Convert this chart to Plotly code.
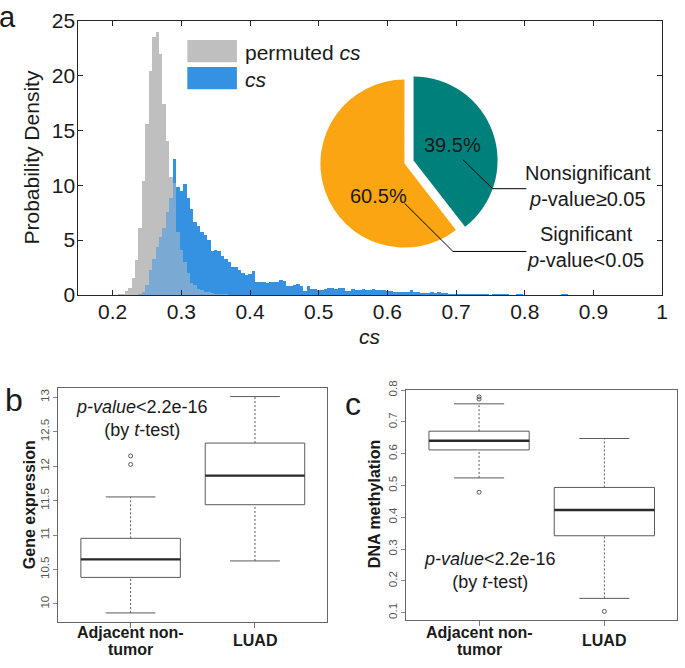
import numpy as np
import plotly.graph_objects as go

# ---------------- data ----------------
BIN_WIDTH = 0.005
perm_start = 0.208          # left edge of first "permuted cs" bin
perm_density = [0.05, 0.15, 0.4, 0.7, 1.6, 3.2, 6.1, 10.4, 15.6, 20.4, 23.5, 24.0,
                22.0, 17.4, 14.1, 10.8, 10.2, 5.8, 4.1, 3.0, 2.0, 1.1, 0.9, 0.55,
                0.45, 0.3, 0.25, 0.2, 0.15, 0.1, 0.05, 0.05]
cs_start = 0.238            # left edge of first "cs" bin
cs_density = [0.1, 0.3, 0.9, 2.3, 3.3, 4.4, 5.3, 6.1, 7.6, 8.9, 12.4, 9.9,
              9.5, 10.1, 8.9, 7.9, 6.7, 6.3, 5.8, 5.5, 5.0, 4.0, 4.1, 4.0,
              3.6, 3.3, 3.0, 2.6, 2.6, 2.3, 2.0, 1.8, 1.9, 2.2, 1.2, 1.2,
              1.2, 1.15, 1.2, 1.2, 1.2, 1.4, 1.3, 0.85, 0.85, 0.9, 1.0, 0.85,
              0.4, 0.85, 0.6, 0.55, 0.5, 0.5, 0.55, 0.65, 0.65, 0.6, 0.7, 0.65,
              0.35, 0.35, 0.55, 0.5, 0.5, 0.55, 0.5, 0.5, 0.55, 0.45, 0.5, 0.5,
              0.4, 0.4, 0.3, 0.3, 0.3, 0.28, 0.28, 0.45, 0.25, 0.25, 0.22, 0.22,
              0.22, 0.28, 0.22, 0.3, 0.18, 0.18, 0.15, 0.12, 0.12, 0.15, 0.15, 0.12,
              0.08, 0.1, 0.05, 0.1, 0.08, 0.05, 0.02, 0.05, 0.1, 0.08, 0.08, 0.05,
              0.0, 0.02, 0.08, 0.05, 0.0, 0.0, 0.0, 0.0, 0.0, 0.0, 0.0, 0.0,
              0.0, 0.0, 0.0, 0.08, 0.05]
x_ticks = [0.2, 0.3, 0.4, 0.5, 0.6, 0.7, 0.8, 0.9, 1.0]
x_ticktext = ["0.2", "0.3", "0.4", "0.5", "0.6", "0.7", "0.8", "0.9", "1"]
y_ticks_a = [0, 5, 10, 15, 20, 25]

pie_labels = ["Nonsignificant", "Significant"]
pie_sub = ["<i>p</i>-value≥0.05", "<i>p</i>-value<0.05"]
pie_values = [39.5, 60.5]

groups = [["Adjacent non-", "tumor"], ["LUAD"]]
group_pos = [1, 2]
expr_q1 = [10.385, 11.44]
expr_median = [10.647, 11.862]
expr_q3 = [10.952, 12.335]
expr_lower = [9.869, 10.624]
expr_upper = [11.553, 13.01]
expr_outliers = [[12.148, 12.025], []]
expr_ticks = [10, 10.5, 11, 11.5, 12, 12.5, 13]

meth_q1 = [0.612, 0.342]
meth_median = [0.641, 0.423]
meth_q3 = [0.671, 0.494]
meth_lower = [0.524, 0.145]
meth_upper = [0.757, 0.648]
meth_outliers = [[0.779, 0.772, 0.479], [0.104]]
meth_ticks = [0.1, 0.2, 0.3, 0.4, 0.5, 0.6, 0.7, 0.8]

# ---------------- helpers ----------------
W, H = 685, 668
def px(x):
    return x / W
def py(y):
    return 1 - y / H

FONT = "Liberation Sans, Arial, sans-serif"
GRAY = "#bfbfbf"
BLUE = "#3591e2"
OVER = "#7aa9d3"
TEAL = "#00807a"
ORANGE = "#fba512"

perm = np.array(perm_density)
cs = np.array(cs_density)
perm_x = perm_start + BIN_WIDTH * (np.arange(len(perm)) + 0.5)
cs_x = cs_start + BIN_WIDTH * (np.arange(len(cs)) + 0.5)
shift = int(round((cs_start - perm_start) / BIN_WIDTH))
n_ov = min(len(perm) - shift, len(cs))
ov = np.minimum(perm[shift:shift + n_ov], cs[:n_ov])
ov_x = cs_x[:n_ov]

fig = go.Figure()
for xs, ys, col in [(perm_x, perm, GRAY), (cs_x, cs, BLUE), (ov_x, ov, OVER)]:
    fig.add_trace(go.Bar(x=xs, y=ys, width=BIN_WIDTH, marker=dict(color=col, line=dict(width=0)),
                         xaxis="x", yaxis="y", showlegend=False, hoverinfo="skip"))

# pie
fig.add_trace(go.Pie(labels=pie_labels, values=pie_values, sort=False, direction="clockwise",
                     rotation=0, pull=[0.115, 0], marker=dict(colors=[TEAL, ORANGE], line=dict(width=0)),
                     textinfo="none", showlegend=False, hoverinfo="skip",
                     domain=dict(x=[px(311), px(505)], y=[py(254), py(60)])))

BOXLINE = "#5a5a5a"
def add_boxes(xa, ya, q1, med, q3, lo, up, outl):
    for i, p in enumerate(group_pos):
        fig.add_trace(go.Box(x=[p], q1=[q1[i]], median=[med[i]], q3=[q3[i]],
                             lowerfence=[q1[i]], upperfence=[q3[i]], width=0.8,
                             whiskerwidth=0, fillcolor="white", boxpoints=False,
                             line=dict(color=BOXLINE, width=1), xaxis=xa, yaxis=ya,
                             showlegend=False, hoverinfo="skip"))
        # whiskers (dashed)
        for a, b in [(q3[i], up[i]), (lo[i], q1[i])]:
            fig.add_trace(go.Scatter(x=[p, p], y=[a, b], mode="lines",
                                     line=dict(color=BOXLINE, width=1, dash="2px,2px"),
                                     xaxis=xa, yaxis=ya, showlegend=False, hoverinfo="skip"))
        # staples
        for v in [up[i], lo[i]]:
            fig.add_trace(go.Scatter(x=[p - 0.2, p + 0.2], y=[v, v], mode="lines",
                                     line=dict(color=BOXLINE, width=1),
                                     xaxis=xa, yaxis=ya, showlegend=False, hoverinfo="skip"))
        # thick median
        fig.add_trace(go.Scatter(x=[p - 0.4, p + 0.4], y=[med[i], med[i]], mode="lines",
                                 line=dict(color="#2a2a2a", width=2.4),
                                 xaxis=xa, yaxis=ya, showlegend=False, hoverinfo="skip"))
        if outl[i]:
            fig.add_trace(go.Scatter(x=[p] * len(outl[i]), y=outl[i], mode="markers",
                                     marker=dict(symbol="circle-open", size=4, color=BOXLINE,
                                                 line=dict(width=1)),
                                     xaxis=xa, yaxis=ya, showlegend=False, hoverinfo="skip"))

add_boxes("x2", "y2", expr_q1, expr_median, expr_q3, expr_lower, expr_upper, expr_outliers)
add_boxes("x3", "y3", meth_q1, meth_median, meth_q3, meth_lower, meth_upper, meth_outliers)

# ---------------- layout ----------------
ax_a = dict(showgrid=False, zeroline=False, showline=True, linecolor="#262626", linewidth=1,
            ticks="inside", ticklen=5, tickcolor="#262626", mirror="ticks",
            tickfont=dict(family=FONT, size=21, color="#1a1a1a"))
ax_box_y = dict(showgrid=False, zeroline=False, showline=True, linecolor="#666666", linewidth=1,
                mirror=True, ticks="outside", ticklen=4, tickcolor="#888888", tickangle=-90,
                tickfont=dict(family=FONT, size=11.5, color="#555555"))
ax_box_x = dict(showgrid=False, zeroline=False, showline=True, linecolor="#666666", linewidth=1,
                mirror=True, ticks="outside", ticklen=5, tickcolor="#777777",
                tickvals=group_pos, showticklabels=False, range=[0.42, 2.58])

fig.update_layout(
    width=W, height=H, autosize=False,
    margin=dict(l=0, r=0, t=0, b=0),
    paper_bgcolor="white", plot_bgcolor="white",
    barmode="overlay", bargap=0,
    font=dict(family=FONT, color="#1a1a1a"),
    xaxis=dict(ax_a, domain=[px(79), px(668)], range=[0.15, 1.0], anchor="y",
               tickvals=x_ticks, ticktext=x_ticktext, ticklabelstandoff=-2),
    yaxis=dict(ax_a, domain=[py(293), py(9)], range=[0, 25], anchor="x",
               tickvals=y_ticks_a, ticklabelstandoff=-2),
    xaxis2=dict(ax_box_x, domain=[px(59), px(330)], anchor="y2"),
    yaxis2=dict(ax_box_y, domain=[py(632), py(389)], range=[9.734, 13.14], anchor="x2",
                tickvals=expr_ticks, ticktext=[f"{v:g}" for v in expr_ticks]),
    xaxis3=dict(ax_box_x, domain=[px(410), px(683)], anchor="y3"),
    yaxis3=dict(ax_box_y, domain=[py(630), py(391)], range=[0.076, 0.802], anchor="x3",
                tickvals=meth_ticks, ticktext=[f"{v:g}" for v in meth_ticks]),
)

ann = []
def A(x, y, text, size, **kw):
    d = dict(x=px(x), y=py(y), xref="paper", yref="paper", text=text, showarrow=False,
             font=dict(family=FONT, size=size, color=kw.pop("color", "#1a1a1a")),
             xanchor=kw.pop("xanchor", "center"), yanchor=kw.pop("yanchor", "middle"))
    d.update(kw)
    ann.append(d)

# panel letters
A(8, 24, "a", 29, yanchor="bottom")
A(14, 402, "b", 32)
A(356, 406, "c", 32)
# panel a titles
A(32, 151, "Probability Density", 21, textangle=-90)
A(373, 336, "<i>cs</i>", 21)
# legend
A(245, 42, "permuted <i>cs</i>", 21, xanchor="left")
A(245, 70, "<i>cs</i>", 21, xanchor="left")
# pie texts
A(457, 138, f"{pie_values[0]:.1f}%", 20)
A(382, 191, f"{pie_values[1]:.1f}%", 20)
A(593, 180, f"{pie_labels[0]}<br>{pie_sub[0]}", 20)
A(591, 243, f"{pie_labels[1]}<br>{pie_sub[1]}", 20)
# panel b/c
A(30, 510, "<b>Gene expression</b>", 16, textangle=-90)
A(378, 510, "<b>DNA methylation</b>", 16, textangle=-90)
for xa in ["x2", "x3"]:
    for p, lines in zip(group_pos, groups):
        ys = [643, 660] if len(lines) == 2 else [651]
        for yy, t in zip(ys, lines):
            ann.append(dict(x=p, y=py(yy), xref=xa, yref="paper", text=f"<b>{t}</b>",
                            showarrow=False, yanchor="middle", xanchor="center",
                            font=dict(family=FONT, size=16, color="#1a1a1a")))
A(143, 421, "<i>p-value</i><2.2e-16<br>(by <i>t</i>-test)", 18)
A(494, 578, "<i>p-value</i><2.2e-16<br>(by <i>t</i>-test)", 18)
fig.update_layout(annotations=ann)

# legend swatches and leader lines (decorations)
shapes = [
    dict(type="rect", xref="paper", yref="paper", x0=px(189), x1=px(239), y0=py(52), y1=py(29),
         fillcolor=GRAY, line=dict(width=0)),
    dict(type="rect", xref="paper", yref="paper", x0=px(189), x1=px(239), y0=py(80), y1=py(57),
         fillcolor=BLUE, line=dict(width=0)),
    dict(type="path", xref="paper", yref="paper",
         path=f"M {px(467)} {py(153)} L {px(497)} {py(183)} L {px(531)} {py(183)}",
         line=dict(color="black", width=1)),
    dict(type="path", xref="paper", yref="paper",
         path=f"M {px(408)} {py(198)} L {px(457)} {py(248)} L {px(531)} {py(248)}",
         line=dict(color="black", width=1)),
]
fig.update_layout(shapes=shapes)

fig.write_html("out.html", config={"displayModeBar": False},
               post_script="document.body.style.margin='0';")
